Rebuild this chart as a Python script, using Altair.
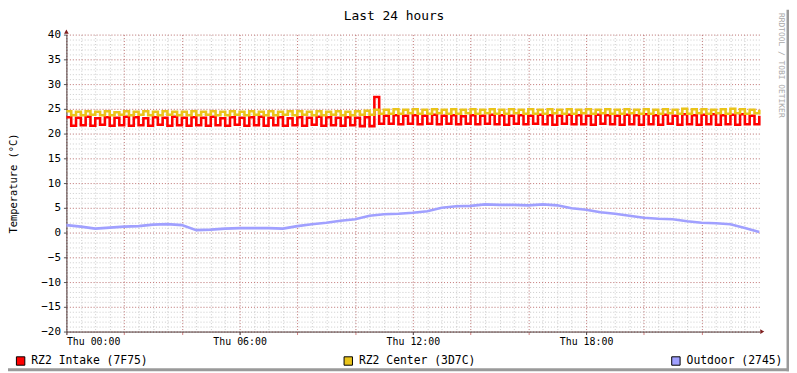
import altair as alt
import pandas as pd

# ---- data ----
STEP_MIN = 10  # sampling step of intake/center series, minutes
intake = [
    23.3, 21.6, 23.2, 21.7, 23.4, 21.6, 23.1, 21.8, 23.3, 21.6, 23.2, 21.7,
    23.4, 21.6, 23.3, 21.7, 23.1, 21.6, 23.3, 21.8, 23.2, 21.6, 23.4, 21.7,
    23.2, 21.6, 23.3, 21.7, 23.2, 21.6, 23.4, 21.7, 23.1, 21.6, 23.3, 21.8,
    23.2, 21.6, 23.3, 21.7, 23.4, 21.6, 23.2, 21.7, 23.3, 21.6, 23.1, 21.7,
    23.3, 21.6, 23.2, 21.8, 23.4, 21.6, 23.3, 21.7, 23.2, 21.6, 23.3, 21.7,
    23.2, 21.5, 23.3, 21.5, 27.4, 22.0, 23.6, 22.0, 23.7, 21.9, 23.6, 22.0,
    23.7, 21.9, 23.6, 22.0, 23.8, 21.9, 23.6, 22.0, 23.7, 21.9, 23.5, 22.0,
    23.7, 21.9, 23.6, 22.0, 23.8, 21.9, 23.7, 21.8, 23.6, 22.0, 23.7, 21.9,
    23.6, 22.0, 23.8, 21.9, 23.7, 21.8, 23.6, 22.0, 23.8, 21.9, 23.7, 21.9,
    23.6, 21.8, 23.8, 22.0, 23.7, 21.9, 23.6, 21.8, 23.8, 21.9, 23.7, 21.8,
    23.9, 21.9, 23.7, 21.8, 23.8, 22.0, 23.6, 21.8, 23.9, 21.9, 23.7, 21.8,
    23.8, 21.9, 23.9, 21.8, 23.7, 21.9, 23.8, 21.8, 23.9, 21.9, 23.6, 21.9,
    23.6,
]
center = [
    24.5, 23.7, 24.4, 23.7, 24.5, 23.8, 24.4, 23.7, 24.5, 23.7, 24.3, 23.8,
    24.5, 23.7, 24.4, 23.8, 24.5, 23.7, 24.4, 23.7, 24.5, 23.8, 24.4, 23.7,
    24.4, 23.7, 24.5, 23.7, 24.4, 23.8, 24.5, 23.7, 24.4, 23.7, 24.5, 23.8,
    24.4, 23.7, 24.5, 23.8, 24.4, 23.7, 24.5, 23.7, 24.4, 23.8, 24.5, 23.7,
    24.5, 23.8, 24.4, 23.7, 24.5, 23.7, 24.4, 23.8, 24.5, 23.7, 24.4, 23.7,
    24.5, 23.8, 24.6, 23.8, 24.8, 24.0, 24.8, 24.0, 24.9, 24.0, 24.8, 24.1,
    24.9, 24.0, 24.8, 24.0, 24.9, 24.1, 24.8, 24.0, 24.9, 24.0, 24.8, 24.1,
    24.9, 24.0, 24.8, 24.1, 24.9, 24.0, 24.8, 24.0, 24.9, 24.1, 24.8, 24.0,
    24.9, 24.0, 24.8, 24.0, 24.9, 24.1, 24.8, 24.0, 24.9, 24.0, 24.8, 24.1,
    24.9, 24.0, 24.8, 24.1, 24.9, 24.0, 24.8, 24.0, 24.9, 24.1, 24.8, 24.0,
    24.9, 24.0, 24.8, 24.0, 24.9, 24.1, 24.8, 24.0, 25.0, 24.0, 24.9, 24.1,
    24.9, 24.0, 24.8, 24.1, 24.9, 24.0, 25.0, 24.1, 24.9, 24.0, 24.8, 24.1,
    24.8,
]
OUT_STEP_MIN = 30
outdoor = [
    1.5, 1.2, 0.8, 1.0, 1.2, 1.3, 1.6, 1.7, 1.5, 0.5, 0.6, 0.8,
    0.9, 0.9, 0.9, 0.8, 1.3, 1.7, 2.0, 2.4, 2.7, 3.4, 3.7, 3.8,
    4.0, 4.3, 5.0, 5.3, 5.4, 5.7, 5.6, 5.6, 5.5, 5.7, 5.5, 4.9,
    4.6, 4.1, 3.8, 3.4, 3.0, 2.8, 2.7, 2.3, 2.0, 1.9, 1.7, 0.9,
    0.1,
]
series_names = ["RZ2 Intake (7F75)", "RZ2 Center (3D7C)", "Outdoor (2745)"]
series_colors = ["#FF0000", "#EAC41A", "#A0A0FF"]
chart_title = "Last 24 hours"
y_title = "Temperature (°C)"
credit = "RRDTOOL / TOBI OETIKER"

x_label_hours = [0, 6, 12, 18]
x_major_hours = list(range(0, 24, 2))
x_minor_hours = [h / 2 for h in range(0, 48)]
y_major = list(range(-20, 41, 5))
y_minor = list(range(-20, 41, 1))

FONT = "DejaVu Sans Mono"

df_intake = pd.DataFrame({"h": [i * STEP_MIN / 60 for i in range(len(intake))], "v": intake})
df_center = pd.DataFrame({"h": [i * STEP_MIN / 60 for i in range(len(center))], "v": center})
df_out = pd.DataFrame({"h": [i * OUT_STEP_MIN / 60 for i in range(len(outdoor))], "v": outdoor})
df_legend = pd.DataFrame({"series": series_names})

xs = alt.Scale(domain=[0, 24], nice=False, zero=False)
ys = alt.Scale(domain=[-20, 40], nice=False, zero=False)

MINOR_GRID = dict(grid=True, gridColor="#8C8C8C", gridOpacity=0.45, gridDash=[1, 2], gridWidth=1)
MAJOR_GRID = dict(grid=True, gridColor="#C84848", gridOpacity=0.6, gridDash=[1, 2], gridWidth=1)

l_intake = alt.Chart(df_intake).mark_line(
    interpolate="step-after", color=series_colors[0], strokeWidth=2.6
).encode(
    x=alt.X("h:Q", scale=xs, axis=alt.Axis(orient="bottom", values=x_minor_hours, labels=False,
                                            ticks=False, domain=False, title=None, **MINOR_GRID)),
    y=alt.Y("v:Q", scale=ys, axis=alt.Axis(orient="left", values=y_minor, labels=False,
                                            ticks=False, domain=False, title=None, **MINOR_GRID)),
)

l_center = alt.Chart(df_center).mark_line(
    interpolate="step-after", color=series_colors[1], strokeWidth=2.6
).encode(
    x=alt.X("h:Q", scale=xs, axis=alt.Axis(orient="bottom", values=x_major_hours, labels=False,
                                            ticks=True, tickSize=3, tickColor="#D08080",
                                            domain=False, title=None, **MAJOR_GRID)),
    y=alt.Y("v:Q", scale=ys, axis=alt.Axis(
        orient="left", values=y_major, labels=True, ticks=True, tickSize=3, tickColor="#555555",
        labelFont=FONT, labelFontSize=11, labelColor="#000000", labelPadding=3,
        domain=True, domainColor="#4a3a3a", title=y_title,
        titleFont=FONT, titleFontSize=10.5, titleFontWeight="normal", titleColor="#000000",
        titleX=-48, titleY=150, **MAJOR_GRID)),
)

l_out = alt.Chart(df_out).mark_line(color=series_colors[2], strokeWidth=2.6).encode(
    x=alt.X("h:Q", scale=xs, axis=alt.Axis(
        orient="bottom", values=x_label_hours, grid=False, ticks=True, tickSize=3,
        tickColor="#555555", labelFont=FONT, labelFontSize=10, labelColor="#000000",
        labelPadding=2,
        labelExpr="'Thu ' + (datum.value < 10 ? '0' : '') + datum.value + ':00'",
        domain=True, domainColor="#4a3a3a", title=None)),
    y=alt.Y("v:Q", scale=ys, axis=None),
)

l_legend = alt.Chart(df_legend).mark_point(filled=True, shape="square", size=0, opacity=1).encode(
    color=alt.Color("series:N", scale=alt.Scale(domain=series_names, range=series_colors),
                    legend=alt.Legend(
                        orient="none", legendX=-52, legendY=324, direction="horizontal",
                        title=None, symbolType="square", symbolSize=72,
                        symbolStrokeColor="#000000", symbolStrokeWidth=1, symbolOpacity=1,
                        labelFont=FONT, labelFontSize=11.5, labelColor="#000000",
                        labelOffset=5, columnPadding=195, padding=0, labelLimit=0)),
)

one = pd.DataFrame({"a": [0]})
title_mark = alt.Chart(one).mark_text(
    text=chart_title, font=FONT, fontSize=13, color="#000000",
    align="center", baseline="alphabetic").encode(x=alt.value(331), y=alt.value(-14.5))
arrow_y = alt.Chart(one).mark_point(shape="triangle-up", filled=True, color="#7F1F1F",
                                    size=22, opacity=1).encode(x=alt.value(0), y=alt.value(-3))
arrow_x = alt.Chart(one).mark_point(shape="triangle-right", filled=True, color="#7F1F1F",
                                    size=22, opacity=1).encode(x=alt.value(703), y=alt.value(300))
border_r = alt.Chart(one).mark_rule(color="#9A9A9A", strokeWidth=3).encode(
    x=alt.value(729), y=alt.value(-25), y2=alt.value(340))
border_b = alt.Chart(one).mark_rule(color="#9A9A9A", strokeWidth=3).encode(
    x=alt.value(-59), x2=alt.value(731), y=alt.value(338.5))
watermark = alt.Chart(one).mark_text(
    text=credit, angle=90, font=FONT, fontSize=8, color="#A8A8A8",
    align="center", baseline="middle").encode(x=alt.value(722), y=alt.value(31))

chart = alt.layer(
    l_intake, l_center, l_out, l_legend, title_mark, arrow_y, arrow_x,
    border_r, border_b, watermark
).resolve_axis(x="independent", y="independent").properties(
    width=700, height=300,
    padding={"left": 59, "top": 25, "right": 30, "bottom": 40},
    autosize=alt.AutoSizeParams(type="none"),
    background="#FFFFFF",
).configure_view(stroke=None)

chart.save("out.html", embed_options={"renderer": "svg", "actions": False})
